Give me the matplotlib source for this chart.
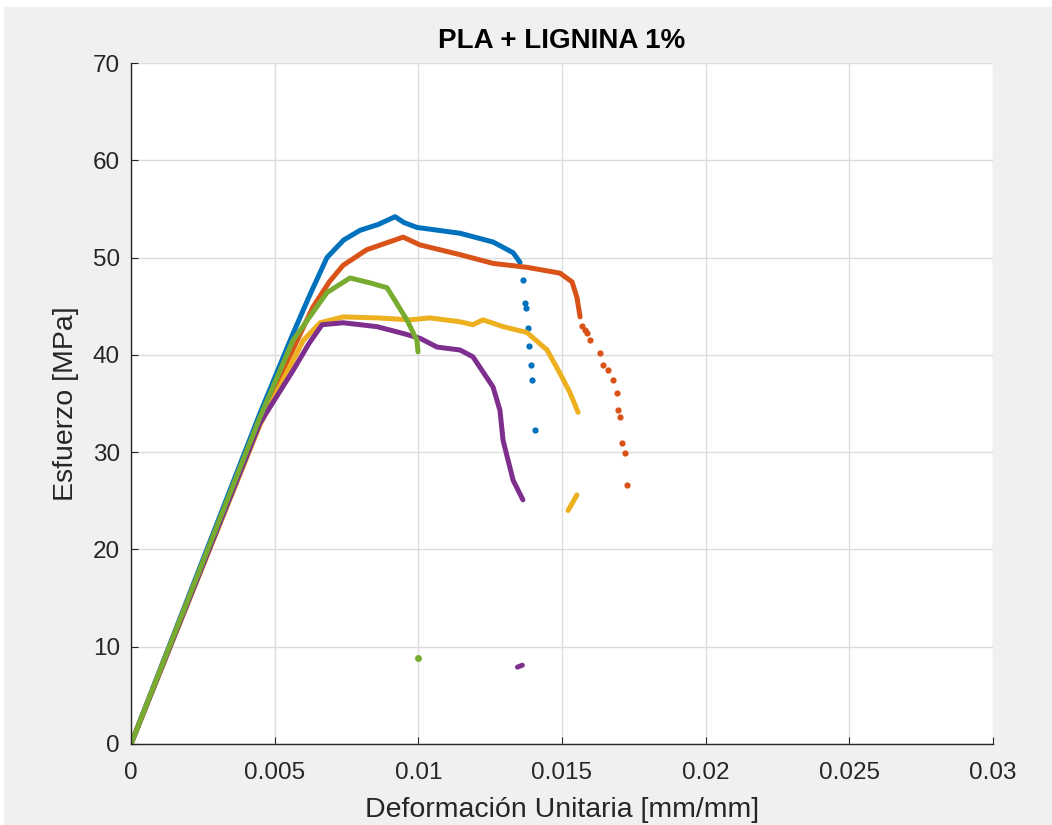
import matplotlib
matplotlib.use("Agg")
import matplotlib.pyplot as plt
from matplotlib.patches import Rectangle

plt.rcParams['font.family'] = ['Liberation Sans', 'DejaVu Sans']

# --- data (strain [mm/mm], stress [MPa]) ---
blue_x = [0, 0.00449, 0.00564, 0.00623, 0.00682, 0.00740, 0.00797, 0.00860, 0.00919, 0.00950, 0.00995, 0.01145, 0.0126, 0.0133, 0.01354]
blue_y = [0, 34.0, 42.2, 46.2, 50.0, 51.8, 52.8, 53.4, 54.2, 53.6, 53.1, 52.5, 51.6, 50.5, 49.5]
blue_drop_x = [0.01364, 0.01372, 0.01376, 0.01382, 0.01386, 0.01392, 0.01395, 0.01406]
blue_drop_y = [47.7, 45.3, 44.8, 42.8, 40.9, 39.0, 37.4, 32.3]

orange_x = [0, 0.00449, 0.00633, 0.00690, 0.00738, 0.0082, 0.00947, 0.01006, 0.01145, 0.0126, 0.01378, 0.01493, 0.01535, 0.01552, 0.01563]
orange_y = [0, 33.4, 44.9, 47.5, 49.2, 50.8, 52.1, 51.3, 50.3, 49.4, 49.0, 48.4, 47.5, 45.9, 43.9]
orange_drop_x = [0.01570, 0.01580, 0.01587, 0.01597, 0.01632, 0.01643, 0.01660, 0.01677, 0.01691, 0.01695, 0.01702, 0.01709, 0.01719, 0.01726]
orange_drop_y = [43.0, 42.6, 42.2, 41.5, 40.2, 39.0, 38.4, 37.4, 36.1, 34.3, 33.6, 30.9, 29.9, 26.6]

yellow_x = [0, 0.00449, 0.00600, 0.00658, 0.00738, 0.00856, 0.00971, 0.0104, 0.01145, 0.0119, 0.01225, 0.01295, 0.01378, 0.01448, 0.01493, 0.01528, 0.01556]
yellow_y = [0, 32.8, 41.5, 43.3, 43.9, 43.8, 43.6, 43.8, 43.4, 43.1, 43.6, 42.9, 42.3, 40.5, 38.1, 36.1, 34.1]
yellow_tail_x = [0.01521, 0.01552]
yellow_tail_y = [24.0, 25.6]

purple_x = [0, 0.00449, 0.00564, 0.00620, 0.00665, 0.00738, 0.00856, 0.00947, 0.01006, 0.01065, 0.01145, 0.0119, 0.0126, 0.01284, 0.01295, 0.0133, 0.01364]
purple_y = [0, 33.0, 38.4, 41.2, 43.1, 43.3, 42.9, 42.2, 41.7, 40.8, 40.5, 39.8, 36.7, 34.3, 31.2, 27.1, 25.1]
purple_tail_x = [0.01345, 0.01362]
purple_tail_y = [7.9, 8.1]

green_x = [0, 0.00449, 0.00564, 0.00682, 0.00762, 0.00832, 0.00891, 0.00912, 0.0096, 0.00995, 0.00999]
green_y = [0, 33.6, 41.5, 46.4, 47.9, 47.4, 46.9, 45.9, 43.6, 41.5, 40.3]
green_tail_x = [0.00999]
green_tail_y = [8.8]

xtick_vals = [0, 0.005, 0.01, 0.015, 0.02, 0.025, 0.03]
xtick_labels = ['0', '0.005', '0.01', '0.015', '0.02', '0.025', '0.03']
ytick_vals = [0, 10, 20, 30, 40, 50, 60, 70]

colors = {'blue': '#0072BD', 'orange': '#D95319', 'yellow': '#EDB120',
          'purple': '#7E2F8E', 'green': '#77AC30'}

fig = plt.figure(figsize=(10.52, 8.25), dpi=100, facecolor='white')
fig.patches.append(Rectangle((4/1052, 0), 1, (825-7)/825, transform=fig.transFigure,
                             facecolor='#f0f0f0', edgecolor='none', zorder=-10))
ax = fig.add_axes([131/1052, 81/825, 862/1052, 681/825])
ax.set_facecolor('white')

lw = 3.6
kw = dict(linewidth=lw, solid_capstyle='round', solid_joinstyle='round')
ax.plot(blue_x, blue_y, color=colors['blue'], **kw)
ax.plot(blue_drop_x, blue_drop_y, 'o', color=colors['blue'], markersize=4.5, markeredgewidth=0)
ax.plot(orange_x, orange_y, color=colors['orange'], **kw)
ax.plot(orange_drop_x, orange_drop_y, 'o', color=colors['orange'], markersize=4.5, markeredgewidth=0)
ax.plot(yellow_x, yellow_y, color=colors['yellow'], **kw)
ax.plot(yellow_tail_x, yellow_tail_y, color=colors['yellow'], **kw)
ax.plot(purple_x, purple_y, color=colors['purple'], **kw)
ax.plot(purple_tail_x, purple_tail_y, color=colors['purple'], **kw)
ax.plot(green_x, green_y, color=colors['green'], **kw)
ax.plot(green_tail_x, green_tail_y, 'o', color=colors['green'], markersize=5, markeredgewidth=0)

ax.set_xlim(0, 0.03)
ax.set_ylim(0, 70)
ax.set_xticks(xtick_vals)
ax.set_xticklabels(xtick_labels)
ax.set_yticks(ytick_vals)
ax.grid(True, color='#dcdcdc', linewidth=1.0)
ax.set_axisbelow(True)
for s in ['top', 'right']:
    ax.spines[s].set_visible(False)
for s in ['left', 'bottom']:
    ax.spines[s].set_color('#262626')
    ax.spines[s].set_linewidth(1.0)
ax.tick_params(direction='in', length=5, colors='#262626', labelsize=17.5)
ax.tick_params(axis='x', pad=13)
ax.tick_params(axis='y', pad=8)

ax.set_xlabel('Deformación Unitaria [mm/mm]', fontsize=20.5, color='#262626', labelpad=9)
ax.set_ylabel('Esfuerzo [MPa]', fontsize=20.5, color='#262626', labelpad=10)
ax.set_title('PLA + LIGNINA 1%', fontsize=20, fontweight='bold', color='#000000', pad=11)

fig.savefig('out.png', dpi=100, facecolor=fig.get_facecolor())
